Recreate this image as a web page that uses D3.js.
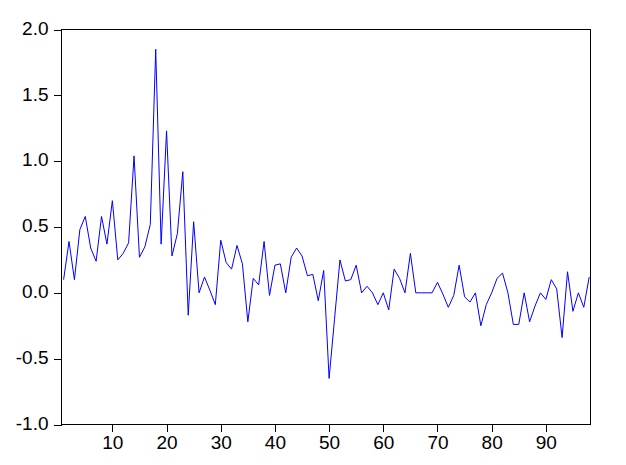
<!DOCTYPE html>
<head>
    <meta charset="utf-8">
    <title>Series</title>
    <script src="https://d3js.org/d3.v7.min.js"></script>
    <style>
        body { margin: 0; background: #fff; }
    </style>
</head>
<body>
    <svg></svg>
</body>

<script>
    var values = [
        0.10, 0.39, 0.10, 0.48, 0.58, 0.34, 0.24, 0.58, 0.37, 0.70,
        0.25, 0.30, 0.38, 1.04, 0.27, 0.35, 0.52, 1.85, 0.37, 1.23,
        0.28, 0.45, 0.92, -0.17, 0.54, 0.00, 0.12, 0.02, -0.09, 0.40,
        0.23, 0.18, 0.36, 0.22, -0.22, 0.11, 0.06, 0.39, -0.02, 0.21,
        0.22, 0.00, 0.27, 0.34, 0.28, 0.13, 0.14, -0.06, 0.17, -0.65,
        -0.20, 0.25, 0.09, 0.10, 0.21, 0.00, 0.05, 0.00, -0.09, 0.00,
        -0.13, 0.18, 0.11, 0.00, 0.30, 0.00, 0.00, 0.00, 0.00, 0.08,
        -0.01, -0.11, -0.02, 0.21, -0.03, -0.07, 0.00, -0.25, -0.09, 0.00,
        0.11, 0.15, 0.00, -0.24, -0.24, 0.00, -0.22, -0.10, 0.00, -0.05,
        0.10, 0.03, -0.34, 0.16, -0.14, 0.00, -0.11, 0.12
    ];
    var xTicks = [10, 20, 30, 40, 50, 60, 70, 80, 90];
    var yTicks = [-1.0, -0.5, 0.0, 0.5, 1.0, 1.5, 2.0];

    var width = 626;
    var height = 465;
    var box = { left: 61.5, right: 590.5, top: 29.5, bottom: 424.5 };
    var font = '"Liberation Sans", Arial, sans-serif';

    var svg = d3.select('svg')
        .attr('width', width)
        .attr('height', height);

    var x = d3.scaleLinear()
        .domain([1, values.length])
        .range([63.6, 589.2]);
    var y = d3.scaleLinear()
        .domain([-1, 2])
        .range([box.bottom, box.top]);

    // plain hyphen for negatives, like the original
    var fmt1 = function (d) { return d.toFixed(1); };

    // y axis (ticks outside, left)
    var gy = svg.append('g')
        .attr('transform', 'translate(' + box.left + ',0)')
        .call(d3.axisLeft(y)
            .tickValues(yTicks)
            .tickSize(8)
            .tickPadding(5)
            .tickFormat(fmt1));
    gy.selectAll('text').attr('dy', '0.25em');

    // x axis (ticks outside, bottom)
    var gx = svg.append('g')
        .attr('transform', 'translate(0,' + box.bottom + ')')
        .call(d3.axisBottom(x)
            .tickValues(xTicks)
            .tickSize(7)
            .tickPadding(4)
            .tickFormat(d3.format('d')));

    [gx, gy].forEach(function (g) {
        g.select('.domain').remove();
        g.selectAll('line').attr('stroke', '#000').attr('shape-rendering', 'crispEdges');
        g.selectAll('text').attr('font-size', 19).attr('font-family', font).attr('fill', '#000');
    });

    // frame
    svg.append('rect')
        .attr('x', box.left)
        .attr('y', box.top)
        .attr('width', box.right - box.left)
        .attr('height', box.bottom - box.top)
        .attr('fill', 'none')
        .attr('stroke', '#000')
        .attr('shape-rendering', 'crispEdges');

    // the series
    var line = d3.line()
        .x(function (d, i) { return x(i + 1); })
        .y(function (d) { return y(d); });

    svg.append('path')
        .datum(values)
        .attr('d', line)
        .attr('fill', 'none')
        .attr('stroke', '#0000ff')
        .attr('stroke-width', 1);
</script>
